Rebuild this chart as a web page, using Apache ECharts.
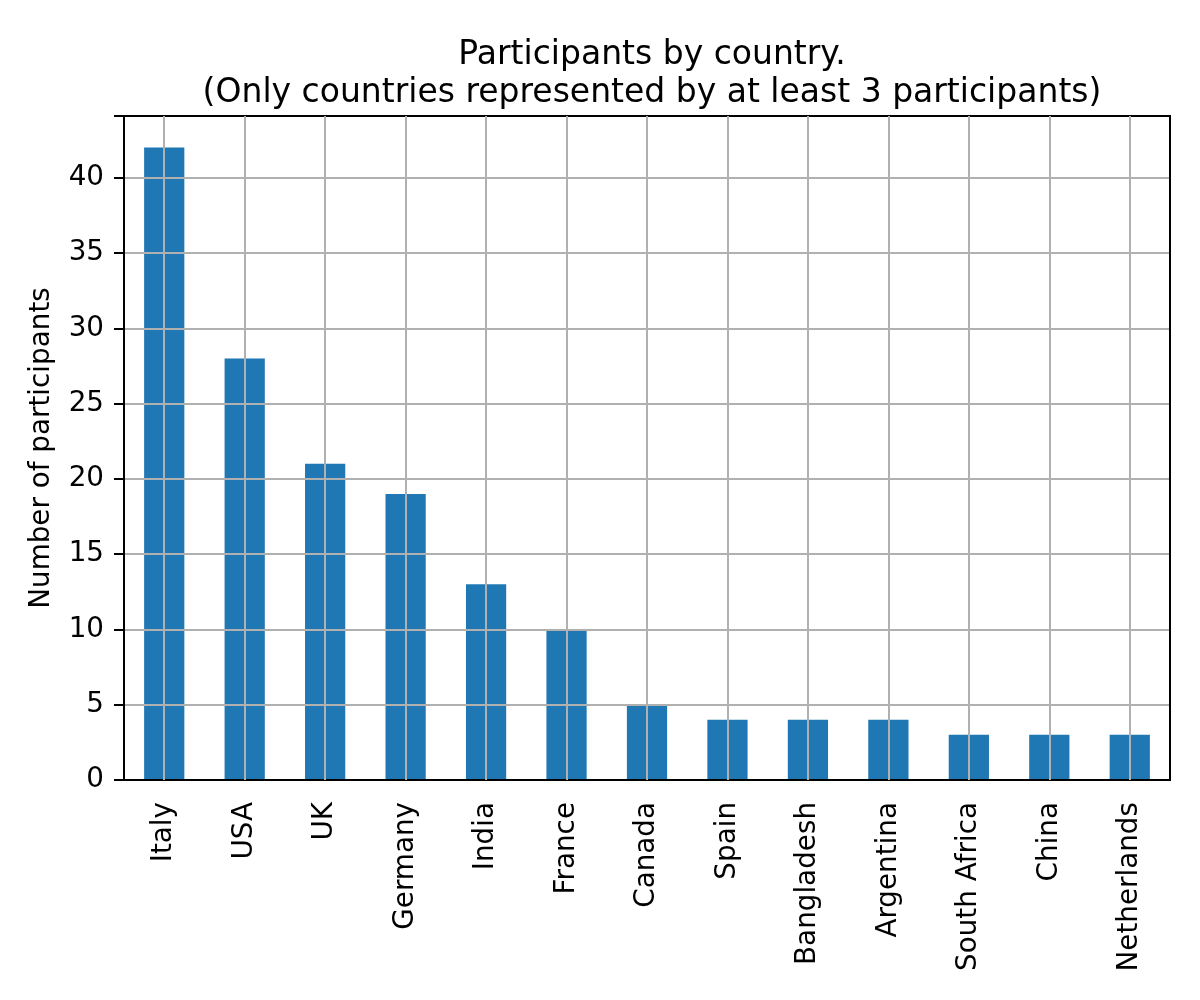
<!DOCTYPE html>
<html>
<head>
<meta charset="utf-8">
<script src="https://cdn.jsdelivr.net/npm/echarts@6/dist/echarts.min.js"></script>
<style>html,body{margin:0;padding:0;background:#fff;}#c{width:1200px;height:1000px;}</style>
</head>
<body>
<div id="c"></div>
<script>
const countries = ["Italy","USA","UK","Germany","India","France","Canada","Spain","Bangladesh","Argentina","South Africa","China","Netherlands"];
const participants = [42,28,21,19,13,10,5,4,4,4,3,3,3];
const yTicks = [0,5,10,15,20,25,30,35,40];

const chart = echarts.init(document.getElementById('c'), null, {renderer:'canvas'});
const font = 'DejaVu Sans';
const grid = '#b0b0b0';
chart.setOption({
  animation:false,
  backgroundColor:'#fff',
  title:{
    text:'Participants by country.\n(Only countries represented by at least 3 participants)',
    left:647, top:31, textAlign:'center',
    textStyle:{fontFamily:font,fontSize:33,fontWeight:'normal',color:'#000',lineHeight:38}
  },
  grid:{left:124,right:30,top:116,bottom:220,show:true,borderColor:'#000',borderWidth:2,backgroundColor:'transparent',z:4},
  xAxis:{
    type:'category', data:countries, boundaryGap:true, z:3,
    axisLine:{lineStyle:{color:'#000',width:2}},
    axisTick:{alignWithLabel:true,length:10,lineStyle:{color:'#000',width:2}},
    axisLabel:{rotate:90,fontFamily:font,fontSize:27.8,color:'#000',margin:22,interval:0},
    splitLine:{show:false}
  },
  yAxis:{
    type:'value', min:0, max:44.1, interval:5, z:3,
    name:'Number of participants', nameLocation:'middle', nameGap:68,
    nameTextStyle:{fontFamily:font,fontSize:27.8,color:'#000'},
    axisLine:{show:true,lineStyle:{color:'#000',width:2}},
    axisTick:{show:true,length:10,lineStyle:{color:'#000',width:2}},
    axisLabel:{fontFamily:font,fontSize:27.8,color:'#000',margin:20,
      formatter:v=> yTicks.includes(v)?String(v):''},
    splitLine:{show:true,lineStyle:{color:grid,width:2}}
  },
  series:[{
    type:'bar', data:participants, barWidth:'50%', z:2,
    itemStyle:{color:'#1f77b4'},
    markLine:{
      silent:true, symbol:['none','none'], animation:false,
      label:{show:false},
      lineStyle:{color:grid,width:2,type:'solid'},
      data:countries.map(c=>({xAxis:c}))
    }
  }]
});
</script>
</body>
</html>
